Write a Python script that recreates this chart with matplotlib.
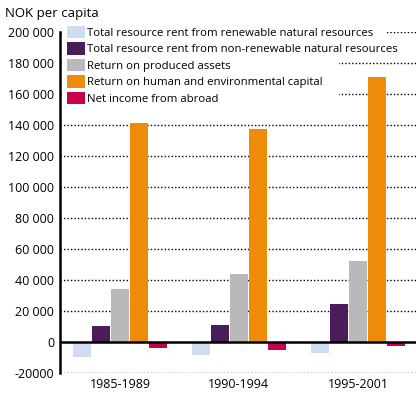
import matplotlib.pyplot as plt
from matplotlib.patches import Rectangle
import numpy as np

periods = ['1985-1989', '1990-1994', '1995-2001']
series = ['Total resource rent from renewable natural resources',
          'Total resource rent from non-renewable natural resources',
          'Return on produced assets',
          'Return on human and environmental capital',
          'Net income from abroad']
renewable = [-9700, -8500, -7000]
non_renewable = [10300, 11000, 24500]
produced = [34200, 44000, 52000]
human_env = [141000, 137500, 171000]
abroad = [-4000, -5000, -2500]
colors = ['#d0dcef', '#4a1c59', '#b9b9b9', '#ee8c0a', '#c8004a']

ticks = list(range(-20000, 200001, 20000))
tick_labels = ['-20000'] + ['{:,}'.format(t).replace(',', ' ') for t in ticks[1:]]

plt.rcParams['font.family'] = ['Open Sans', 'DejaVu Sans']
fig = plt.figure(figsize=(4.16, 3.95), dpi=100)
ax = fig.add_axes([0.144, 0.056, 0.856, 0.863])

x = np.arange(len(periods))
w = 0.151
step = 0.16
data = [renewable, non_renewable, produced, human_env, abroad]
for i, (vals, name, c) in enumerate(zip(data, series, colors)):
    ax.bar(x + (i - 2) * step, vals, w, color=c, label=name, zorder=3)

ax.set_ylim(-20000, 200000)
ax.set_xlim(-0.504, 2.487)
ax.set_yticks(ticks)
ax.set_yticklabels(tick_labels, fontsize=9)
ax.set_xticks(x)
ax.set_xticklabels(periods, fontsize=9)
ax.tick_params(length=0, pad=4)
for t in ticks:
    if t != 0:
        ax.axhline(t, color='black', linestyle=(0, (1, 1.5)), linewidth=1.0, zorder=1)
ax.axhline(0, color='black', linewidth=1.8, zorder=4)
for s in ['top', 'right', 'bottom']:
    ax.spines[s].set_visible(False)
ax.spines['left'].set_linewidth(1.8)

# white area behind the legend (covers the gridlines)
ax.add_patch(Rectangle((0.005, 0.79), 0.78, 0.23, transform=ax.transAxes,
                       facecolor='white', edgecolor='none', zorder=4.5, clip_on=False))
ax.add_patch(Rectangle((0.005, 0.97), 0.91, 0.05, transform=ax.transAxes,
                       facecolor='white', edgecolor='none', zorder=4.5, clip_on=False))

leg = ax.legend(loc='upper left', bbox_to_anchor=(0.018, 1.021), fontsize=8.2,
                frameon=False, handlelength=1.5, handleheight=1.3, handletextpad=0.25,
                labelspacing=0.3, borderpad=0.1, borderaxespad=0)
leg.set_zorder(5)

fig.text(0.012, 0.965, 'NOK per capita', fontsize=9.5, va='center')
fig.savefig('out.png')
